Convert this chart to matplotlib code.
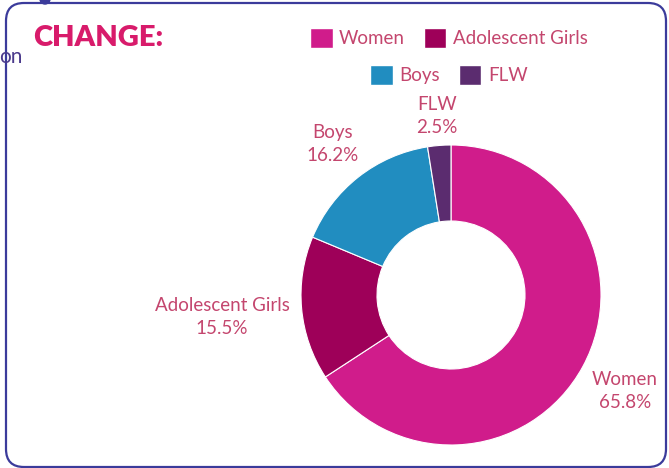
import matplotlib

matplotlib.use("Agg")
import matplotlib.pyplot as plt
from matplotlib.patches import FancyBboxPatch, Patch

W, H = 669, 468

# data
categories = ["Women", "Adolescent Girls", "Boys", "FLW"]
shares = [65.8, 15.5, 16.2, 2.5]
colors = ["#D01C8B", "#9E0059", "#218DC0", "#5B2C6F"]
label_color = "#C4466E"
title_text = "CHANGE:"

plt.rcParams["font.family"] = ["Lato", "DejaVu Sans"]

fig = plt.figure(figsize=(W / 100, H / 100), dpi=100)
ax = fig.add_axes([0, 0, 1, 1])

# card border
ax.add_patch(FancyBboxPatch((6 + 18, 1 + 18), 660 - 36, 464 - 36,
                            boxstyle="round,pad=18", fc="white",
                            ec="#3B3B9B", lw=1.6, zorder=0))
ax.add_patch(plt.Circle((45, H + 1), 5, color="#3B3B9B", zorder=1, clip_on=False))
ax.text(-1, H - 57, "on", ha="left", va="center", fontsize=15,
        color="#4B3A8C")

ax.text(33, H - 38, title_text, ha="left", va="center", fontsize=21,
        fontweight="heavy", color="#D81B6B")

wedges, _ = ax.pie(shares, colors=colors, startangle=90, counterclock=False,
                   center=(451, H - 295), radius=150,
                   wedgeprops=dict(width=76, linewidth=0.8, edgecolor="white"),
                   frame=True)
ax.set_xlim(0, W)
ax.set_ylim(0, H)
ax.set_aspect("equal")
ax.axis("off")

label_pos = {"Women": (625, 391), "Adolescent Girls": (222, 317),
             "Boys": (333, 144), "FLW": (437, 116)}
for name, val in zip(categories, shares):
    x, y = label_pos[name]
    ax.text(x, H - y, f"{name}\n{val}%", ha="center", va="center",
            fontsize=13.5, color=label_color, linespacing=1.45)

handles = [Patch(facecolor=c, edgecolor="white") for c in colors]
leg_kw = dict(frameon=False, ncol=2, handlelength=1.2,
              handleheight=1.2, handletextpad=0.35, columnspacing=1.0,
              labelcolor=label_color, loc="center",
              bbox_transform=ax.transData, prop=dict(size=13.5))
leg1 = ax.legend(handles[:2], categories[:2], bbox_to_anchor=(449, H - 38), **leg_kw)
ax.add_artist(leg1)
ax.legend(handles[2:], categories[2:], bbox_to_anchor=(449, H - 75), **leg_kw)

fig.savefig("out.png", dpi=100)
